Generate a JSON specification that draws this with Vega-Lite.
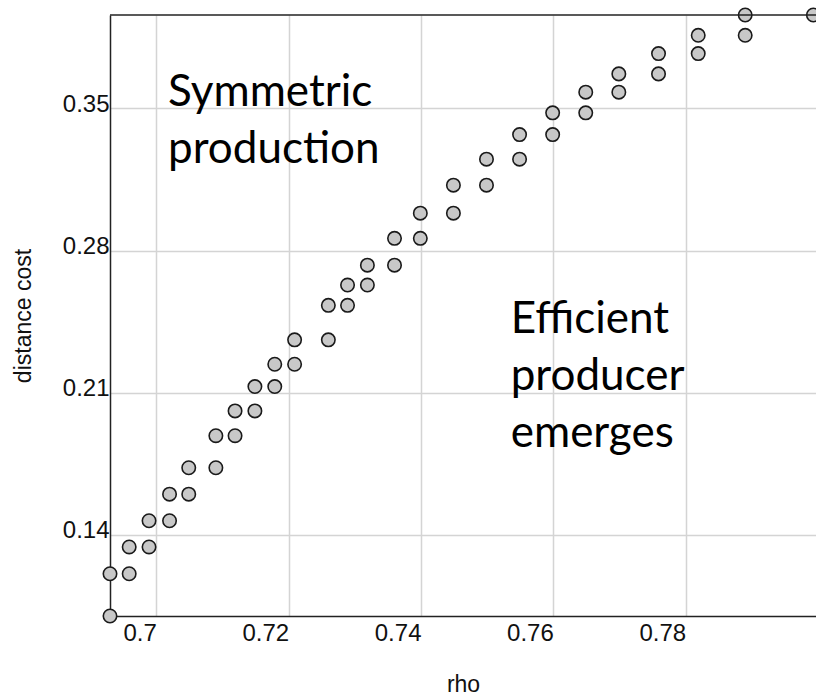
{
  "$schema": "https://vega.github.io/schema/vega-lite/v6.json",
  "width": 706,
  "height": 601,
  "autosize": {"type": "none"},
  "padding": {"left": 110, "top": 15, "right": 0, "bottom": 79},
  "background": "white",
  "config": {
    "view": {"stroke": null},
    "axis": {
      "labelFont": "Liberation Sans",
      "titleFont": "Liberation Sans",
      "labelFontSize": 24,
      "titleFontSize": 23,
      "labelColor": "#111",
      "titleColor": "#111",
      "titleFontWeight": "normal",
      "gridColor": "#d4d4d4",
      "gridWidth": 1.5,
      "domainColor": "#222",
      "domainWidth": 1.5,
      "ticks": false
    }
  },
  "datasets": {
    "pts": [
      {"rho": 0.693, "cost": 0.100},
      {"rho": 0.693, "cost": 0.1208},
      {"rho": 0.6959, "cost": 0.1208},
      {"rho": 0.6959, "cost": 0.134},
      {"rho": 0.6989, "cost": 0.134},
      {"rho": 0.6989, "cost": 0.1469},
      {"rho": 0.702, "cost": 0.1469},
      {"rho": 0.702, "cost": 0.160},
      {"rho": 0.7049, "cost": 0.160},
      {"rho": 0.7049, "cost": 0.173},
      {"rho": 0.709, "cost": 0.173},
      {"rho": 0.709, "cost": 0.1888},
      {"rho": 0.7119, "cost": 0.1888},
      {"rho": 0.7119, "cost": 0.201},
      {"rho": 0.7149, "cost": 0.201},
      {"rho": 0.7149, "cost": 0.213},
      {"rho": 0.7179, "cost": 0.213},
      {"rho": 0.7179, "cost": 0.224},
      {"rho": 0.7209, "cost": 0.224},
      {"rho": 0.7209, "cost": 0.236},
      {"rho": 0.726, "cost": 0.236},
      {"rho": 0.726, "cost": 0.253},
      {"rho": 0.7289, "cost": 0.253},
      {"rho": 0.7289, "cost": 0.263},
      {"rho": 0.7319, "cost": 0.263},
      {"rho": 0.7319, "cost": 0.2728},
      {"rho": 0.736, "cost": 0.2728},
      {"rho": 0.736, "cost": 0.286},
      {"rho": 0.7399, "cost": 0.286},
      {"rho": 0.7399, "cost": 0.2984},
      {"rho": 0.7449, "cost": 0.2984},
      {"rho": 0.7449, "cost": 0.3122},
      {"rho": 0.7499, "cost": 0.3122},
      {"rho": 0.7499, "cost": 0.325},
      {"rho": 0.7549, "cost": 0.325},
      {"rho": 0.7549, "cost": 0.3371},
      {"rho": 0.7599, "cost": 0.3371},
      {"rho": 0.7599, "cost": 0.3478},
      {"rho": 0.7649, "cost": 0.3478},
      {"rho": 0.7649, "cost": 0.358},
      {"rho": 0.7699, "cost": 0.358},
      {"rho": 0.7699, "cost": 0.367},
      {"rho": 0.7759, "cost": 0.367},
      {"rho": 0.7759, "cost": 0.377},
      {"rho": 0.7819, "cost": 0.377},
      {"rho": 0.7819, "cost": 0.386},
      {"rho": 0.789, "cost": 0.386},
      {"rho": 0.789, "cost": 0.396},
      {"rho": 0.7993, "cost": 0.396}
    ],
    "notes": [
      {"rho": 0.70177, "cost": 0.3512, "label": ["Symmetric", "production"]},
      {"rho": 0.75356, "cost": 0.2394, "label": ["Efficient", "producer", "emerges"]}
    ],
    "top": [{"cost": 0.396}]
  },
  "layer": [
    {
      "data": {"name": "pts"},
      "mark": {"type": "point", "filled": true, "size": 180, "fill": "#c8c8c8", "stroke": "#1a1a1a", "strokeWidth": 1.6, "opacity": 1},
      "encoding": {
        "x": {
          "field": "rho", "type": "quantitative",
          "scale": {"domain": [0.693, 0.7997], "nice": false, "zero": false},
          "axis": {"title": "rho", "values": [0.7, 0.72, 0.74, 0.76, 0.78], "format": "~g", "labelAlign": "right", "labelPadding": 5, "labelFontSize": 24, "titleFontSize": 23, "titlePadding": 28, "domain": true}
        },
        "y": {
          "field": "cost", "type": "quantitative",
          "scale": {"domain": [0.1, 0.396], "nice": false, "zero": false},
          "axis": {"title": "distance cost", "values": [0.14, 0.21, 0.28, 0.35], "format": "~g", "labelBaseline": "alphabetic", "labelOffset": 3, "labelPadding": 1, "labelFontSize": 24, "titleFontSize": 23, "titlePadding": 27}
        }
      }
    },
    {
      "data": {"name": "top"},
      "mark": {"type": "rule", "color": "#222", "strokeWidth": 1.5},
      "encoding": {"y": {"field": "cost", "type": "quantitative"}}
    },
    {
      "data": {"name": "notes"},
      "mark": {"type": "text", "font": "Lato", "fontSize": 44, "align": "left", "baseline": "alphabetic", "lineHeight": 57, "color": "#000"},
      "encoding": {
        "x": {"field": "rho", "type": "quantitative"},
        "y": {"field": "cost", "type": "quantitative"},
        "text": {"field": "label"}
      }
    }
  ]
}
